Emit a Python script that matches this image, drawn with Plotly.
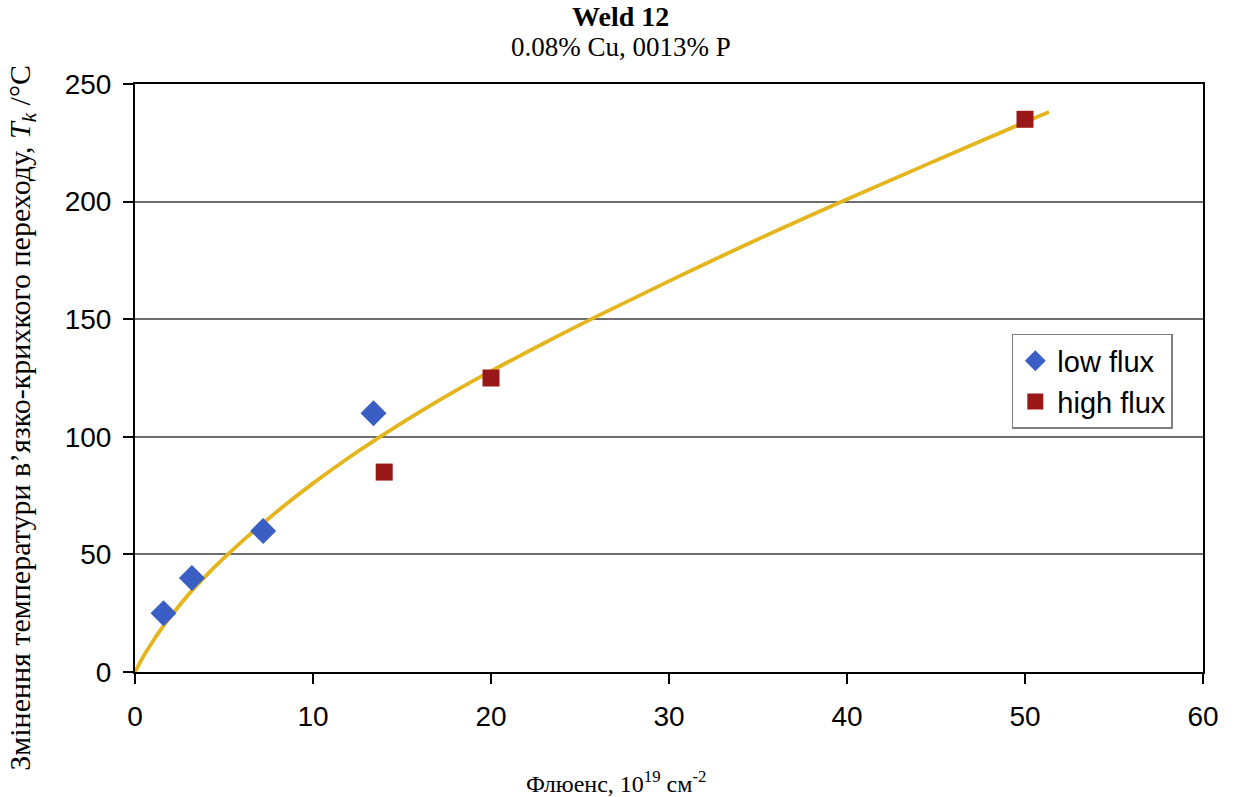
import plotly.graph_objects as go

# Measured shift of the ductile-brittle transition temperature, Weld 12
low_flux_x = [1.6, 3.2, 7.2, 13.4]
low_flux_y = [25, 40, 60, 110]
high_flux_x = [14, 20, 50]
high_flux_y = [85, 125, 235]

# Trend curve read point by point
trend_x = [0, 0.5, 1, 1.6, 2.4, 3.2, 4.2, 5.2, 6.2, 7.2, 8.5, 10, 11.7, 13.5,
           16, 18, 20, 23, 26, 30, 35, 40, 45, 50, 51.35]
trend_y = [0, 7, 13, 19.6, 27.4, 34.6, 42.6, 49.9, 56.8, 63.3, 71.4, 80.2, 89.5, 98.7,
           110.6, 119.5, 127.9, 139.9, 151.4, 166.2, 184, 201, 217.5, 233.8, 238.1]

x_ticks = [0, 10, 20, 30, 40, 50, 60]
y_ticks = [0, 50, 100, 150, 200, 250]

fig = go.Figure()
fig.add_trace(go.Scatter(
    x=trend_x, y=trend_y, mode="lines", showlegend=False,
    line=dict(color="#E5B51E", width=3.8, shape="spline", smoothing=1),
    hoverinfo="skip"))
fig.add_trace(go.Scatter(
    x=low_flux_x, y=low_flux_y, mode="markers", name="low flux",
    marker=dict(symbol="diamond", size=20, color="#3A5EC4")))
fig.add_trace(go.Scatter(
    x=high_flux_x, y=high_flux_y, mode="markers", name="high flux",
    marker=dict(symbol="square", size=17, color="#9A1717")))

axis_font = dict(family="Arial, Liberation Sans", size=28, color="black")
fig.update_xaxes(
    range=[0, 60], tickvals=x_ticks, ticks="outside", ticklen=10, tickwidth=2,
    tickcolor="black", showline=True, linecolor="black", linewidth=2,
    mirror=True, showgrid=False, zeroline=False, tickfont=axis_font,
    ticklabelstandoff=8)
fig.update_yaxes(
    range=[0, 250], tickvals=y_ticks, ticks="outside", ticklen=10, tickwidth=2,
    tickcolor="black", showline=True, linecolor="black", linewidth=2,
    mirror=True, showgrid=True, gridcolor="#6E6E6E", gridwidth=2,
    zeroline=False, tickfont=axis_font, ticklabelstandoff=6)

serif = "Times New Roman, Liberation Serif, serif"
fig.update_layout(
    width=1240, height=797,
    margin=dict(l=135, r=37, t=84, b=125),
    paper_bgcolor="white", plot_bgcolor="white",
    legend=dict(
        x=0.821, y=0.575, xanchor="left", yanchor="top",
        bgcolor="white", bordercolor="#7F7F7F", borderwidth=1.5,
        font=dict(family="Arial, Liberation Sans", size=29, color="black"),
        itemwidth=34, tracegroupgap=0),
    annotations=[
        dict(text="<b>Weld 12</b>", xref="paper", yref="paper",
             x=0.455, y=1.114, xanchor="center", yanchor="middle",
             showarrow=False, font=dict(family=serif, size=28, color="black")),
        dict(text="0.08% Cu, 0013% P", xref="paper", yref="paper",
             x=0.455, y=1.063, xanchor="center", yanchor="middle",
             showarrow=False, font=dict(family=serif, size=27, color="black")),
        dict(text="Флюенс, 10<sup>19</sup> см<sup>-2</sup>", xref="paper", yref="paper",
             x=0.45, y=-0.187, xanchor="center", yanchor="middle",
             showarrow=False, font=dict(family=serif, size=24, color="black")),
        dict(text="Змінення температури в’язко-крихкого переходу, <i>T<sub>k</sub></i> /°C",
             xref="paper", yref="paper", x=-0.106, y=0.432,
             xanchor="center", yanchor="middle", textangle=-90,
             showarrow=False, font=dict(family=serif, size=30, color="black")),
    ],
)

fig.write_html("out.html")
